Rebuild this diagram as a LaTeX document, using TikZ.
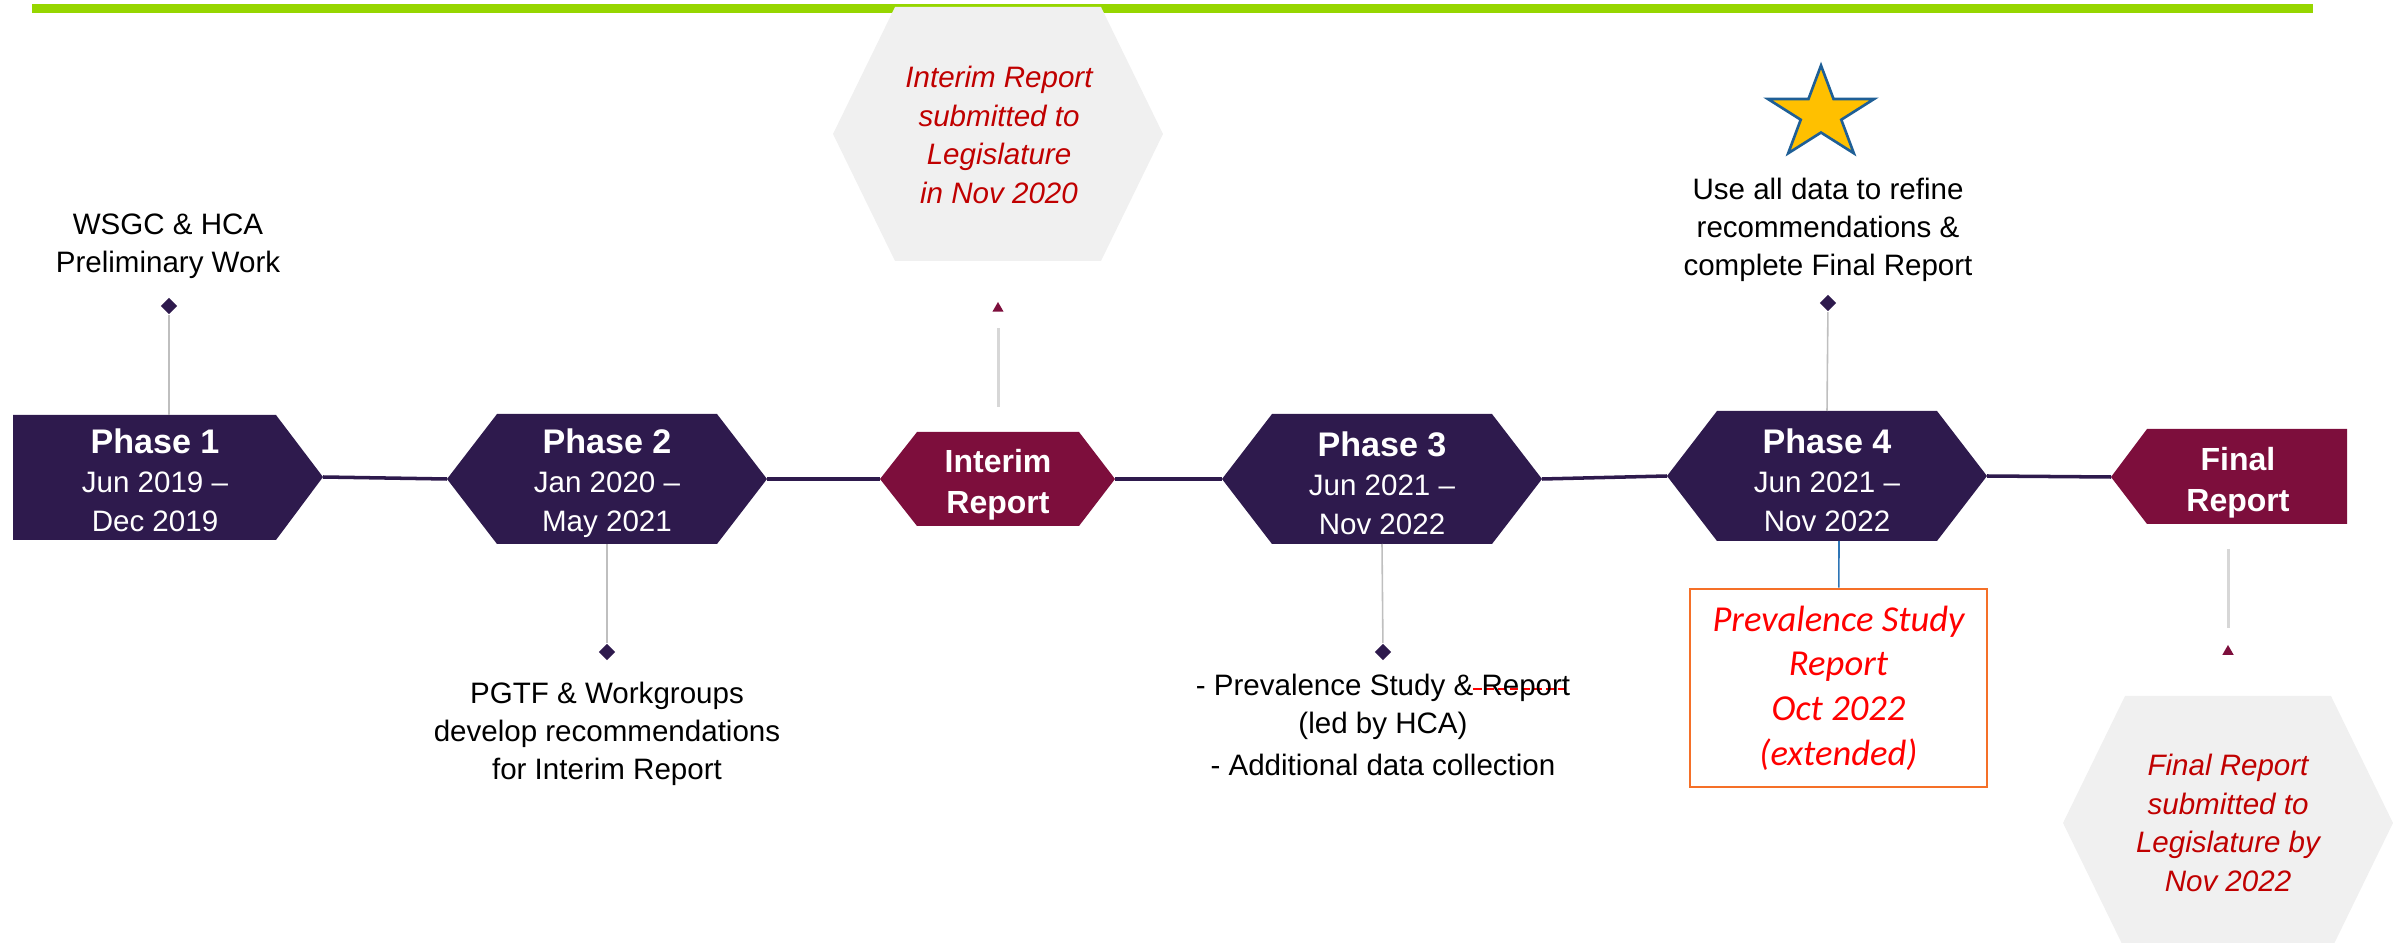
\documentclass[tikz,border=0pt]{standalone}
\usepackage{fontspec}
\setmainfont{Liberation Sans}
\newfontfamily\calibri{Carlito}
\usetikzlibrary{shapes.geometric}

\definecolor{phasepurple}{RGB}{46,26,77}
\definecolor{reportmaroon}{RGB}{125,14,60}
\definecolor{bargreen}{RGB}{150,214,0}
\definecolor{hexgray}{RGB}{240,240,240}
\definecolor{notered}{RGB}{192,0,0}
\definecolor{boxorange}{RGB}{245,112,40}
\definecolor{starblue}{RGB}{31,95,150}
\definecolor{stargold}{RGB}{255,192,0}
\definecolor{stemgray}{RGB}{191,191,191}
\definecolor{stemlight}{RGB}{215,215,215}
\definecolor{stemblue}{RGB}{46,117,182}

\newcommand{\dashstrike}[1]{%
    \setbox0\hbox{#1}%
    \rlap{\color{red}\raisebox{0.35ex}{\hbox to\wd0{\xleaders\hbox to 3.4pt{\rule{2.3pt}{0.6pt}\hss}\hfill}}}#1}

\tikzset{
    spine/.style={phasepurple, line width=1pt},
    stem/.style={stemgray, line width=0.45pt},
    lightstem/.style={stemlight, line width=0.85pt},
    marker/.style={diamond, fill=phasepurple, inner sep=0pt, minimum size=0.17cm},
    pointer/.style={regular polygon, regular polygon sides=3, fill=reportmaroon, inner sep=0pt, minimum size=0.13cm},
    phasetext/.style={text=white, align=center, inner sep=0pt, font=\fontsize{8.4}{11.1}\selectfont},
    reporttext/.style={text=white, align=center, inner sep=0pt, font=\bfseries\fontsize{9.1}{11.7}\selectfont},
    blacktext/.style={align=center, inner sep=0pt, font=\fontsize{8.4}{10.9}\selectfont},
    notetext/.style={text=notered, align=center, inner sep=0pt, font=\itshape\fontsize{8.4}{11}\selectfont},
}

\begin{document}
\begin{tikzpicture}[x=0.01cm, y=-0.01cm]
    \useasboundingbox (0,0) rectangle (2402,943);
    \draw[bargreen, line width=0.09cm] (32,8.5) -- (2313,8.5);
    % grey note hexagons
    \foreach \cx/\cy in {998/134, 2228/823}{
        \fill[hexgray] (\cx-165,\cy) --++ (62,-127) --++ (206,0) --++ (62,127) --++ (-62,127) --++ (-206,0) -- cycle;
    }
    \node[notetext] (irnote) at (999,135) {Interim Report\\submitted to\\Legislature\\in Nov 2020};
    \node[notetext] (frnote) at (2228,823) {Final Report\\submitted to\\Legislature by\\Nov 2022};

    % phases
    \fill[phasepurple] (13,415) -- (276,415) -- (323,477) -- (276,540) -- (13,540) -- cycle;
    \coordinate (p1-e) at (323,477);
    \coordinate (p1-n) at (169,415);
    \node[phasetext] (p1) at (155,480) {{\fontsize{9.7}{11.1}\selectfont\bfseries Phase 1}\\Jun 2019 –\\Dec 2019};
    \foreach \n/\cx/\cy/\k/\from/\to in {p2/607/479/2/Jan 2020/May 2021, p3/1382/479/3/Jun 2021/Nov 2022, p4/1827/476/4/Jun 2021/Nov 2022}{
        \fill[phasepurple] (\cx-160,\cy) --++ (50,-65) --++ (220,0) --++ (50,65) --++ (-50,65) --++ (-220,0) -- cycle;
        \coordinate (\n-w) at (\cx-160,\cy);
        \coordinate (\n-e) at (\cx+160,\cy);
        \coordinate (\n-n) at (\cx,\cy-65);
        \coordinate (\n-s) at (\cx,\cy+65);
        \node[phasetext] (\n) at (\cx,\cy+4) {{\fontsize{9.7}{11.1}\selectfont\bfseries Phase \k}\\\from~–\\\to};
    }
    \fill[reportmaroon] (880,479) -- (917,432) -- (1079,432) -- (1115,479) -- (1079,526) -- (917,526) -- cycle;
    \coordinate (ir-w) at (880,479);
    \coordinate (ir-e) at (1115,479);
    \node[reporttext] (ir) at (998,485) {Interim\\Report};
    \fill[reportmaroon] (2111,477) -- (2147,429) -- (2347,429) -- (2347,524) -- (2147,524) -- cycle;
    \coordinate (fr-w) at (2111,477);
    \node[reporttext] (fr) at (2238,483) {Final\\Report};
    \foreach \a/\b in {p1/p2, p2/ir, ir/p3, p3/p4, p4/fr}
        \draw[spine] (\a-e) -- (\b-w);

    % markers and stems
    \node[marker] (d1) at (169,306) {};
    \node[marker] (d2) at (607,652) {};
    \node[marker] (d3) at (1383,652) {};
    \node[marker] (d4) at (1828,303) {};
    \draw[stem] (d1) -- (p1-n);
    \draw[stem] (d2) -- (p2-s);
    \draw[stem] (d3) -- (p3-s);
    \draw[stem] (d4) -- (p4-n);
    \node[pointer] (t1) at (998,308.5) {};
    \node[pointer] (t2) at (2228,651.5) {};
    \coordinate (ir-up) at (998,407);
    \coordinate (ir-top) at (998,328);
    \coordinate (fr-down) at (2228,549);
    \coordinate (fr-bot) at (2228,628);
    \draw[lightstem] (ir-up) -- (ir-top);
    \draw[lightstem] (fr-down) -- (fr-bot);

    \node[blacktext] (prework) at (168,246) {WSGC \& HCA\\Preliminary Work};
    \node[blacktext] (recs) at (607,734) {PGTF \& Workgroups\\develop recommendations\\for Interim Report};
    \node[blacktext] (study) at (1383,725) {- Prevalence Study \&\dashstrike{\ Report}\\(led by HCA)\\[1pt]- Additional data collection};
    \node[blacktext] (refine) at (1828,230) {Use all data to refine\\recommendations \&\\complete Final Report};

    \begin{scope}[shift={(1821,114)}, xscale=1.15]
        \node[star, star points=5, star point ratio=2.618, minimum size=0.97cm, inner sep=0pt, fill=stargold, draw=starblue, line width=0.75pt, transform shape] (star) at (0,0) {};
    \end{scope}

    \node[draw=boxorange, line width=0.75pt, minimum width=2.97cm, minimum height=1.98cm, align=center, inner sep=0pt, text=red, font=\calibri\itshape\fontsize{10.4}{12.7}\selectfont] (prev) at (1838.5,688) {Prevalence Study\\Report\\Oct 2022\\(extended)};
    \coordinate (p4-foot) at (1839,541);
    \draw[stemblue, line width=0.45pt] (prev) -- (p4-foot);
\end{tikzpicture}
\end{document}
